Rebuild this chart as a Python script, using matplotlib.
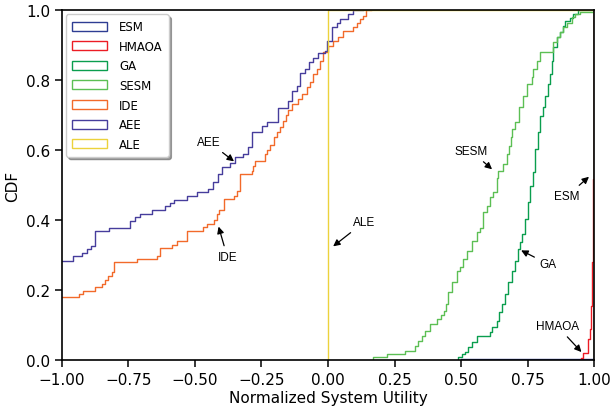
import matplotlib
matplotlib.use('Agg')
import matplotlib.pyplot as plt
from matplotlib.patches import Patch

# step points (x where the CDF jumps, new CDF level)
aee_x = [-1.0, -0.959, -0.925, -0.906, -0.891, -0.876, -0.823, -0.744, -0.726, -0.707, -0.662,
         -0.613, -0.594, -0.579, -0.53, -0.492, -0.451, -0.432, -0.414, -0.398, -0.368, -0.35,
         -0.32, -0.30, -0.286, -0.248, -0.229, -0.188, -0.15, -0.135, -0.117, -0.105, -0.086,
         -0.071, -0.056, -0.038, -0.011, -0.004, 0.015, 0.034, 0.045, 0.075, 0.094, 0.13]
aee_y = [0.283, 0.297, 0.306, 0.317, 0.326, 0.369, 0.377, 0.397, 0.409, 0.417, 0.429,
         0.44, 0.449, 0.457, 0.469, 0.48, 0.489, 0.509, 0.531, 0.551, 0.563, 0.58,
         0.589, 0.609, 0.651, 0.669, 0.68, 0.72, 0.74, 0.769, 0.783, 0.82, 0.831,
         0.851, 0.863, 0.877, 0.883, 0.911, 0.951, 0.963, 0.974, 0.989, 1.0, 1.0]

ide_x = [-1.0, -0.936, -0.921, -0.876, -0.85, -0.838, -0.827, -0.812, -0.805, -0.718, -0.643,
         -0.632, -0.586, -0.568, -0.53, -0.47, -0.455, -0.429, -0.417, -0.41, -0.391, -0.353,
         -0.342, -0.331, -0.286, -0.282, -0.274, -0.237, -0.229, -0.218, -0.203, -0.192, -0.18,
         -0.169, -0.158, -0.15, -0.135, -0.113, -0.098, -0.079, -0.068, -0.056, -0.041, -0.03,
         -0.019, 0.0, 0.019, 0.038, 0.056, 0.094, 0.109, 0.12, 0.131, 0.143, 0.16]
ide_y = [0.18, 0.189, 0.197, 0.208, 0.217, 0.229, 0.24, 0.251, 0.28, 0.289, 0.297,
         0.32, 0.329, 0.34, 0.369, 0.38, 0.389, 0.4, 0.417, 0.429, 0.46, 0.469,
         0.483, 0.531, 0.54, 0.554, 0.569, 0.589, 0.6, 0.614, 0.637, 0.651, 0.666,
         0.683, 0.7, 0.714, 0.731, 0.746, 0.76, 0.78, 0.794, 0.817, 0.831, 0.854,
         0.88, 0.897, 0.911, 0.923, 0.94, 0.951, 0.963, 0.974, 0.983, 1.0, 1.0]

sesm_x = [0.169, 0.169, 0.222, 0.289, 0.327, 0.338, 0.353, 0.365, 0.383, 0.41, 0.425, 0.436,
          0.444, 0.449, 0.466, 0.485, 0.496, 0.508, 0.523, 0.541, 0.56, 0.571, 0.583, 0.598,
          0.609, 0.62, 0.635, 0.639, 0.658, 0.673, 0.68, 0.686, 0.692, 0.703, 0.718, 0.733,
          0.748, 0.767, 0.771, 0.786, 0.797, 0.846, 0.861, 0.872, 0.883, 0.898, 0.917, 0.929,
          0.947, 1.0]
sesm_y = [0.0, 0.009, 0.017, 0.026, 0.04, 0.054, 0.069, 0.083, 0.103, 0.117, 0.129, 0.14,
          0.16, 0.194, 0.223, 0.254, 0.266, 0.289, 0.311, 0.34, 0.366, 0.377, 0.423, 0.44,
          0.466, 0.48, 0.52, 0.54, 0.56, 0.589, 0.611, 0.637, 0.66, 0.68, 0.723, 0.754,
          0.789, 0.809, 0.831, 0.854, 0.88, 0.909, 0.923, 0.937, 0.951, 0.963, 0.98, 0.989,
          0.994, 1.0]

ga_x = [0.489, 0.489, 0.503, 0.515, 0.526, 0.541, 0.56, 0.609, 0.617, 0.635, 0.643, 0.654,
        0.665, 0.677, 0.692, 0.703, 0.714, 0.722, 0.729, 0.741, 0.752, 0.759, 0.771, 0.778,
        0.789, 0.797, 0.808, 0.816, 0.827, 0.835, 0.842, 0.846, 0.861, 0.872, 0.883, 0.891,
        0.91, 0.921, 0.94, 1.0]
ga_y = [0.0, 0.009, 0.017, 0.023, 0.037, 0.051, 0.069, 0.08, 0.094, 0.111, 0.137, 0.16,
        0.189, 0.223, 0.254, 0.283, 0.317, 0.337, 0.36, 0.403, 0.451, 0.497, 0.537, 0.603,
        0.651, 0.697, 0.723, 0.754, 0.789, 0.817, 0.854, 0.894, 0.923, 0.937, 0.954, 0.969,
        0.977, 0.989, 1.0, 1.0]

hmaoa_x = [0.951, 0.951, 0.959, 0.977, 0.985, 0.989, 0.991, 0.992, 0.994, 0.996, 0.998, 1.0]
hmaoa_y = [0.0, 0.007, 0.02, 0.06, 0.089, 0.154, 0.22, 0.28, 0.4, 0.517, 0.7, 1.0]

esm_x = [0.5, 1.0]
esm_y = [0.003, 1.0]

ale_x = [0.0, 0.0, 1.0]
ale_y = [0.0, 1.0, 0.0]

names = ['ESM', 'HMAOA', 'GA', 'SESM', 'IDE', 'AEE', 'ALE']
colors = ['#2e3d93', '#ec1c24', '#0a9e4e', '#5cbf54', '#f26a2a', '#463d9c', '#ecd23c']
series = [(esm_x, esm_y), (hmaoa_x, hmaoa_y), (ga_x, ga_y), (sesm_x, sesm_y),
          (ide_x, ide_y), (aee_x, aee_y), (ale_x, ale_y)]

fig = plt.figure(figsize=(6.12, 4.14), dpi=100)
ax = fig.add_axes([0.101, 0.128, 0.870, 0.845])

for (x, y), c in zip(series, colors):
    ax.step(x, y, where='post', color=c, linewidth=1.0)

ax.set_xlim(-1, 1)
ax.set_ylim(0, 1)
ax.set_xticks([-1, -0.75, -0.5, -0.25, 0, 0.25, 0.5, 0.75, 1.0])
ax.set_xticklabels(['\u22121.00', '\u22120.75', '\u22120.50', '\u22120.25', '0.00',
                    '0.25', '0.50', '0.75', '1.00'])
ax.tick_params(labelsize=11, length=5, width=1.1)
for s in ax.spines.values():
    s.set_linewidth(1.2)
ax.set_xlabel('Normalized System Utility', fontsize=11, labelpad=2)
ax.set_ylabel('CDF', fontsize=11)

# labels with arrows
ann_font = dict(fontsize=8.5, family='Liberation Sans', ha='center', va='center')
arrow = dict(arrowstyle='-|>', color='black', lw=0.9, mutation_scale=10)
ax.annotate('AEE', xy=(-0.345, 0.563), xytext=(-0.447, 0.623), arrowprops=arrow, **ann_font)
ax.annotate('IDE', xy=(-0.414, 0.389), xytext=(-0.378, 0.294), arrowprops=arrow, **ann_font)
ax.annotate('ALE', xy=(0.011, 0.32), xytext=(0.135, 0.394), arrowprops=arrow, **ann_font)
ax.annotate('SESM', xy=(0.624, 0.54), xytext=(0.538, 0.597), arrowprops=arrow, **ann_font)
ax.annotate('GA', xy=(0.716, 0.317), xytext=(0.827, 0.274), arrowprops=arrow, **ann_font)
ax.annotate('ESM', xy=(0.988, 0.529), xytext=(0.898, 0.469), arrowprops=arrow, **ann_font)
ax.annotate('HMAOA', xy=(0.959, 0.017), xytext=(0.861, 0.097), arrowprops=arrow, **ann_font)

handles = [Patch(facecolor='white', edgecolor=c, linewidth=1.0) for c in colors]
ax.legend(handles, names, loc='upper left', fontsize=8.5, shadow=True, fancybox=True,
          handlelength=3.0, handleheight=0.8, labelspacing=0.56, handletextpad=1.0,
          borderaxespad=0.35, borderpad=0.5)

fig.savefig('out.png', dpi=100)
